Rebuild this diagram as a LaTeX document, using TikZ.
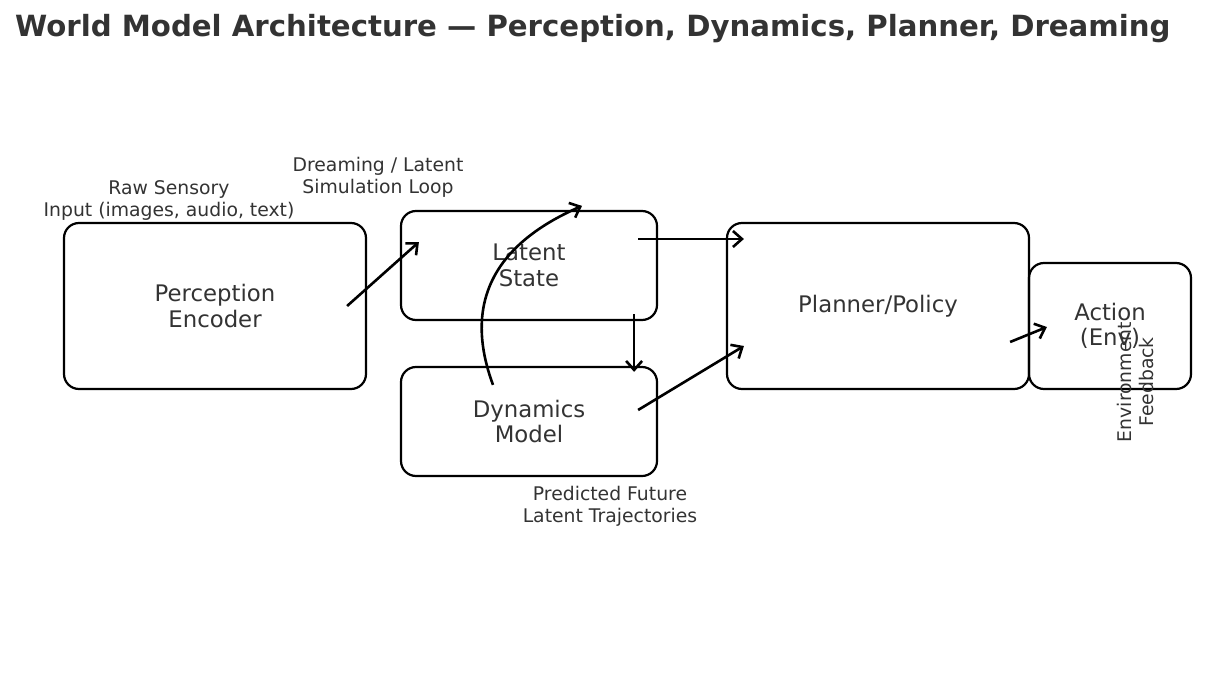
\documentclass[tikz,border=0pt]{standalone}
\usepackage{fontspec}
\setmainfont{DejaVu Sans}
\usetikzlibrary{arrows.meta}
\definecolor{txtgray}{HTML}{333333}
\tikzset{
  block/.style={draw=black, line width=2.2pt, rounded corners=15pt, text=txtgray,
    align=center, font=\fontsize{22.8}{25.5}\selectfont, inner sep=0pt},
  note/.style={text=txtgray, align=center, font=\fontsize{18.8}{22}\selectfont, inner sep=0pt},
  flow/.style={->, line width=2.6pt}
}
\begin{document}
\begin{tikzpicture}[x=1pt, y=-1pt, >={Straight Barb[length=9pt,width=16pt]}]
			\useasboundingbox (0,0) rectangle (1206,682);
			\node[anchor=base west, text=txtgray, font=\fontsize{29.2}{32}\selectfont\bfseries, inner sep=0pt] (title) at (15,37) {World Model Architecture — Perception, Dynamics, Planner, Dreaming};
			% boxes
			\node[block, minimum width=302pt, minimum height=166pt] (perc) at (215,306) {Perception\\Encoder};
			\node[block, minimum width=256pt, minimum height=109pt] (lat) at (529,265.5) {Latent\\State};
			\node[block, minimum width=256pt, minimum height=109pt] (dyn) at (529,421.5) {Dynamics\\Model};
			\node[block, minimum width=302pt, minimum height=166pt] (plan) at (878,306) {Planner/Policy};
			\node[block, minimum width=162pt, minimum height=126pt] (act) at (1110,326) {Action\\(Env)};
			% labels
			\node[note] (raw) at (169,200) {Raw Sensory\\Input (images, audio, text)};
			\node[note] (dream) at (378,177) {Dreaming / Latent\\Simulation Loop};
			\node[note] (pred) at (610,506) {Predicted Future\\Latent Trajectories};
			\node[note, rotate=90] (env) at (1135,382) {Environment\\Feedback};
			% arrows
			\draw[flow] ([xshift=-20pt]perc.east) -- ([xshift=19pt,yshift=23.5pt]lat.west);
			\draw[flow] ([xshift=-20pt,yshift=26.5pt]lat.east) -- ([xshift=18pt,yshift=67pt]plan.west);
			\draw[flow] ([xshift=-24pt,yshift=7pt]lat.south east) -- ([xshift=-24pt,yshift=-6pt]dyn.north east);
			\draw[flow] ([xshift=-20pt,yshift=11.5pt]dyn.east) -- ([xshift=18pt,yshift=-40pt]plan.west);
			\draw[flow] ([xshift=-20pt,yshift=-36pt]plan.east) -- ([xshift=19pt,yshift=-1pt]act.west);
			\draw[flow] ([xshift=-36pt,yshift=-19pt]dyn.north) .. controls +(-30,-81) and +(-89,39) .. ([xshift=53pt,yshift=4pt]lat.north);
		\end{tikzpicture}
\end{document}
